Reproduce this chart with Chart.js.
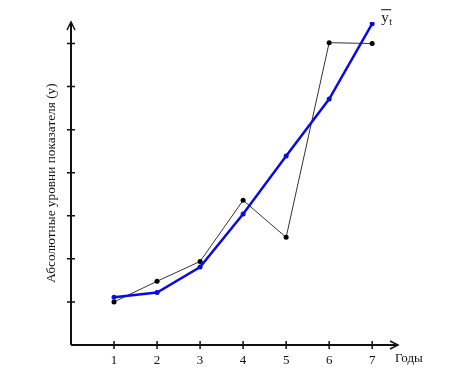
<!DOCTYPE html>
<html>
<head>
<meta charset="utf-8">
<script src="https://cdn.jsdelivr.net/npm/chart.js@4"></script>
<style>
body { margin: 0; background: #fff; }
#wrap { width: 456px; height: 386px; position: relative; }
</style>
</head>
<body>
<div id="wrap"><canvas id="trend"></canvas></div>
<script>
// годы и уровни ряда
var years = [1, 2, 3, 4, 5, 6, 7];
var actual = [1.0, 1.48, 1.94, 3.36, 2.5, 7.02, 7.0];
var trend = [1.11, 1.22, 1.81, 3.04, 4.39, 5.71, 7.46];
var yTicks = [1, 2, 3, 4, 5, 6, 7];
var xTitle = 'Годы';
var yTitle = 'Абсолютные уровни показателя (у)';

function pts(vals) {
    var out = [];
    for (var i = 0; i < years.length; i++) {
        out.push({x: years[i], y: vals[i]});
    }
    return out;
}

// оси со стрелками, засечки и подписи
var axesPlugin = {
    id: 'axesPlugin',
    afterDatasetsDraw: function(chart) {
        var c = chart.ctx;
        var xs = chart.scales.x, ys = chart.scales.y;
        var ox = xs.getPixelForValue(0), oy = ys.getPixelForValue(0);
        var top = chart.chartArea.top, right = chart.chartArea.right;
        c.save();
        c.strokeStyle = '#111';
        c.lineWidth = 2;
        c.beginPath();
        c.moveTo(ox, oy); c.lineTo(ox, top + 1);
        c.moveTo(ox, oy); c.lineTo(right - 1, oy);
        c.stroke();
        c.lineWidth = 1.5;
        c.beginPath();
        c.moveTo(ox - 4, top + 8); c.lineTo(ox, top); c.lineTo(ox + 4, top + 8);
        c.moveTo(right - 8, oy - 4); c.lineTo(right, oy); c.lineTo(right - 8, oy + 4);
        for (var i = 0; i < yTicks.length; i++) {
            var py = ys.getPixelForValue(yTicks[i]);
            c.moveTo(ox - 4, py); c.lineTo(ox + 4, py);
        }
        for (var j = 0; j < years.length; j++) {
            var px = xs.getPixelForValue(years[j]);
            c.moveTo(px, oy - 4); c.lineTo(px, oy + 4);
        }
        c.stroke();

        c.fillStyle = '#111';
        c.font = '13px "Liberation Serif", "Times New Roman", serif';
        c.textAlign = 'center';
        c.textBaseline = 'middle';
        for (var k = 0; k < years.length; k++) {
            c.fillText(String(years[k]), xs.getPixelForValue(years[k]), oy + 16);
        }
        c.textAlign = 'left';
        c.fillText(xTitle, right - 3, oy + 14);

        c.save();
        c.translate(52, 183);
        c.rotate(-Math.PI / 2);
        c.textAlign = 'center';
        c.font = '13.3px "Liberation Serif", "Times New Roman", serif';
        c.fillText(yTitle, 0, 0);
        c.restore();

        // подпись тренда
        var lx = xs.getPixelForValue(7) + 9, ly = ys.getPixelForValue(7.46) - 2;
        c.font = '15px "Liberation Serif", "Times New Roman", serif';
        c.textAlign = 'left';
        c.textBaseline = 'alphabetic';
        c.fillText('y', lx, ly);
        c.font = '10px "Liberation Serif", "Times New Roman", serif';
        c.fillText('t', lx + 8, ly + 3);
        c.lineWidth = 1;
        c.beginPath();
        c.moveTo(lx, ly - 12); c.lineTo(lx + 10, ly - 12);
        c.stroke();
        c.restore();
    }
};

var ctx = document.getElementById('trend');
var chart = new Chart(ctx, {
    type: 'line',
    data: {
        datasets: [{
            data: pts(actual),
            borderColor: '#333',
            borderWidth: 1,
            backgroundColor: '#000',
            pointRadius: 2.5,
            pointBorderWidth: 0,
            tension: 0,
            order: 2
        }, {
            data: pts(trend),
            borderColor: '#0a0ae6',
            borderWidth: 2.5,
            backgroundColor: '#0a0ae6',
            pointRadius: 2.5,
            pointBorderWidth: 0,
            tension: 0,
            order: 1
        }]
    },
    options: {
        responsive: true,
        maintainAspectRatio: false,
        animation: false,
        layout: {padding: {left: 71, top: 22, right: 58, bottom: 41}},
        plugins: {legend: {display: false}, tooltip: {enabled: false}},
        scales: {
            x: {type: 'linear', min: 0, max: 7.6, display: false},
            y: {type: 'linear', min: 0, max: 7.5, display: false}
        }
    },
    plugins: [axesPlugin]
});
</script>
</body>
</html>
